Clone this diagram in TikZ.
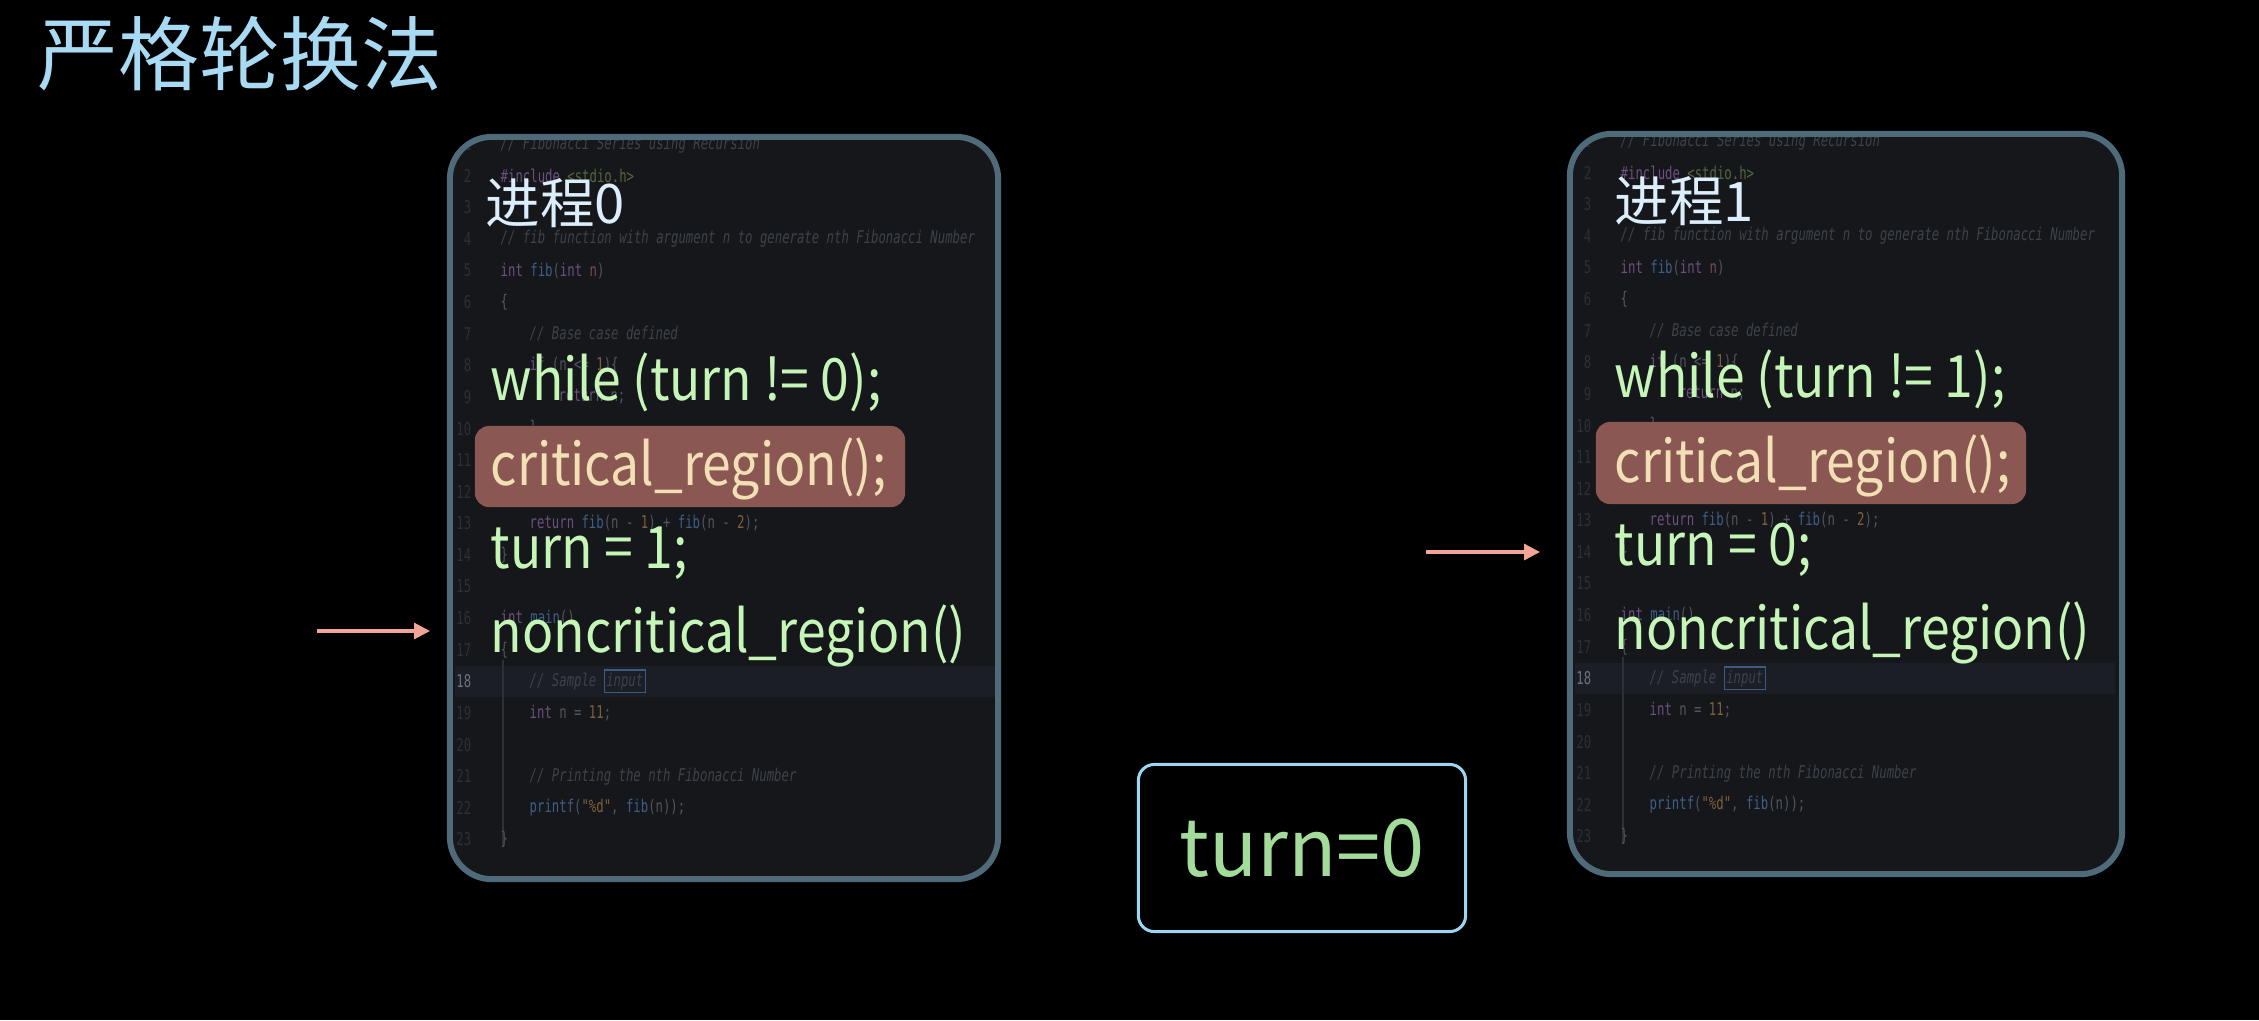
\documentclass[tikz,border=0pt]{standalone}
\usepackage{fontspec}
\usepackage{graphicx}
\setmainfont{Noto Sans CJK SC}
\newfontfamily\codefont{DejaVu Sans Mono}
\usetikzlibrary{arrows.meta}
\definecolor{titleblue}{HTML}{A9DAF3}
\definecolor{proclabel}{HTML}{DCEEFC}
\definecolor{codegreen}{HTML}{C6F5B8}
\definecolor{critcream}{HTML}{F3DFB6}
\definecolor{hlfill}{HTML}{8A5752}
\definecolor{turngreen}{HTML}{A3DC9A}
\definecolor{boxblue}{HTML}{9CD6F2}
\definecolor{arrowpink}{HTML}{F2A596}
\definecolor{panelborder}{HTML}{4F6A79}
\definecolor{panelfill}{HTML}{15171B}
\definecolor{ccom}{HTML}{3D424A}
\definecolor{cplain}{HTML}{50565F}
\definecolor{ckw}{HTML}{6E4F7E}
\definecolor{cfn}{HTML}{3E5E88}
\definecolor{cnum}{HTML}{7E603C}
\definecolor{cstr}{HTML}{55663F}
\definecolor{cvar}{HTML}{7A4A55}
\definecolor{clnum}{HTML}{2C3036}
\definecolor{clnumhi}{HTML}{6C717A}
\definecolor{curline}{HTML}{1B1E24}
\definecolor{cinbox}{HTML}{3D5A80}
\definecolor{cguide}{HTML}{2C3037}

\newcommand\cly[1]{239+(#1-4)*31.6}
\newcommand\cln[4]{%
  \node[lnum] (#1n#2) at (472,{\cly{#2}}) {\scalebox{0.7}[1]{#2}};
  \node[codetxt] (#1c#2) at (#3,{\cly{#2}}) {\scalebox{0.7}[1]{#4}};}
\newcommand\clnb[2]{%
  \node[lnum] (#1n#2) at (472,{\cly{#2}}) {\scalebox{0.7}[1]{#2}};}
\newcommand\cmt[1]{\textcolor{ccom}{\itshape #1}}
\newcommand\kw[1]{\textcolor{ckw}{#1}}
\newcommand\fn[1]{\textcolor{cfn}{#1}}
\newcommand\nm[1]{\textcolor{cnum}{#1}}
\newcommand\sq[1]{\scalebox{0.885}[1]{#1}}

\newcommand\codeblock[1]{%
  \clip[rounded corners=11pt] (453,140) rectangle (995,876);
  \fill[curline] (455,{\cly{18}-15.8}) rectangle (995,{\cly{18}+15.8});
  \draw[cguide, line width=0.5pt] (503,{\cly{17}+10}) -- (503,{\cly{23}+8});
  \cln{#1}{1}{500}{\cmt{// Fibonacci Series using Recursion}}
  \cln{#1}{2}{500}{\kw{\#include} \textcolor{cstr}{<stdio.h>}}
  \clnb{#1}{3}
  \cln{#1}{4}{500}{\cmt{// fib function with argument n to generate nth Fibonacci Number}}
  \cln{#1}{5}{500}{\kw{int} \fn{fib}(\kw{int} \textcolor{cvar}{n})}
  \cln{#1}{6}{500}{\{}
  \cln{#1}{7}{529}{\cmt{// Base case defined}}
  \cln{#1}{8}{529}{\kw{if} (n <= \nm{1})\{}
  \cln{#1}{9}{558}{\kw{return} n;}
  \cln{#1}{10}{529}{\}}
  \clnb{#1}{11}
  \cln{#1}{12}{529}{\cmt{// Recursive Calls to fib function}}
  \cln{#1}{13}{529}{\kw{return} \fn{fib}(n - \nm{1}) + \fn{fib}(n - \nm{2});}
  \cln{#1}{14}{500}{\}}
  \clnb{#1}{15}
  \cln{#1}{16}{500}{\kw{int} \fn{main}()}
  \cln{#1}{17}{500}{\{}
  \node[codetxt] (#1c18) at (529,{\cly{18}}) {\scalebox{0.7}[1]{\cmt{// Sample {\setlength\fboxsep{0.6pt}\setlength\fboxrule{0.4pt}\fcolorbox{cinbox}{curline}{input}}}}};
  \node[lnum, text=clnumhi] (#1n18) at (472,{\cly{18}}) {\scalebox{0.7}[1]{18}};
  \cln{#1}{19}{529}{\kw{int} n = \nm{11};}
  \clnb{#1}{20}
  \cln{#1}{21}{529}{\cmt{// Printing the nth Fibonacci Number}}
  \cln{#1}{22}{529}{\fn{printf}(\textcolor{cnum}{"\%d"}, \fn{fib}(n));}
  \cln{#1}{23}{500}{\}}
}

\begin{document}
\begin{tikzpicture}[x=0.01cm,y=-0.01cm,
  panel/.style={draw=panelborder, fill=panelfill, line width=1.7pt, rounded corners=12pt, inner sep=0pt},
  hlbox/.style={fill=hlfill, rounded corners=4pt, inner sep=0pt, draw=none},
  bigcode/.style={anchor=base west, inner sep=0pt, text=codegreen, font=\fontsize{16.6}{20}\selectfont},
  crit/.style={bigcode, text=critcream},
  proc/.style={anchor=base west, inner sep=0pt, text=proclabel, font=\fontsize{15.5}{18}\selectfont},
  titletext/.style={anchor=base west, inner sep=0pt, text=titleblue, font=\fontsize{23}{27}\selectfont},
  turnbox/.style={draw=boxblue, line width=0.85pt, rounded corners=4.5pt, text=turngreen, font=\fontsize{22.6}{26}\selectfont, minimum width=3.27cm, minimum height=1.67cm, inner sep=0pt},
  arr/.style={draw=arrowpink, line width=0.9pt, -{Triangle[length=4.5pt,width=4.5pt]}},
  codetxt/.style={anchor=west, inner sep=0pt, font=\codefont\fontsize{5}{6}\selectfont, text=cplain},
  lnum/.style={anchor=east, inner sep=0pt, font=\codefont\fontsize{5}{6}\selectfont, text=clnum}
]
\fill[black] (0,0) rectangle (2259,1020);
\useasboundingbox (0,0) rectangle (2259,1020);

% title
\node[titletext] (title) at (37,84) {严格轮换法};

% panels
\node[panel, minimum width=5.48cm, minimum height=7.42cm] (p0) at (724,508) {};
\node[panel, minimum width=5.52cm, minimum height=7.40cm] (p1) at (1846,504) {};

\begin{scope}
  \codeblock{l}
\end{scope}
\begin{scope}[shift={(1120,-3)}]
  \codeblock{r}
\end{scope}

% left process
\node[proc] (p0l) at (485,223) {进程0};
\node[bigcode] (p0w) at (490,400) {\sq{while (turn != 0);}};
\node[hlbox, minimum width=4.3cm, minimum height=0.81cm] (h0) at (690,466.5) {};
\node[crit] (p0c) at (490,485) {\sq{critical\_region();}};
\node[bigcode] (p0u) at (490,568) {\sq{turn = 1;}};
\node[bigcode] (p0n) at (490,652) {\sq{noncritical\_region()}};

% right process
\node[proc] (p1l) at (1614,221) {进程1};
\node[bigcode] (p1w) at (1614,397) {\sq{while (turn != 1);}};
\node[hlbox, minimum width=4.3cm, minimum height=0.82cm] (h1) at (1811,463) {};
\node[crit] (p1c) at (1614,482) {\sq{critical\_region();}};
\node[bigcode] (p1u) at (1614,565) {\sq{turn = 0;}};
\node[bigcode] (p1n) at (1614,649) {\sq{noncritical\_region()}};

% shared variable
\node[turnbox] (turn) at (1302,848) {turn=0};

% arrows
\coordinate (a0s) at (317,631);
\coordinate (a0e) at (430,631);
\draw[arr] (a0s) -- (a0e);
\coordinate (a1s) at (1426,552);
\coordinate (a1e) at (1540,552);
\draw[arr] (a1s) -- (a1e);
\end{tikzpicture}
\end{document}
